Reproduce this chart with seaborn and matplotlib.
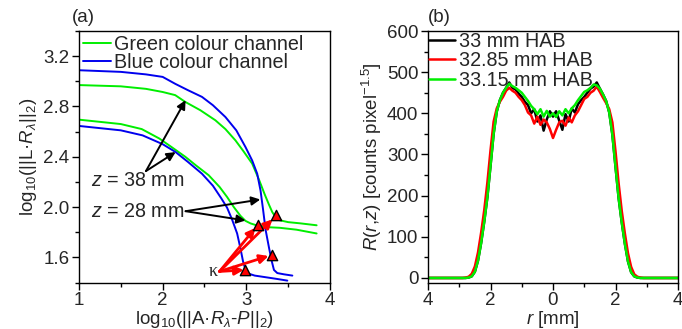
import numpy as np
import pandas as pd
import matplotlib
matplotlib.use("Agg")
import matplotlib.pyplot as plt
import seaborn as sns

# ---------------- Panel (a) data: L-curves ----------------
green_hi_x = [1.0, 1.5, 1.8, 2.0, 2.15, 2.27, 2.45, 2.63, 2.75, 2.87, 2.97, 3.07, 3.15, 3.22, 3.27, 3.31, 3.35, 3.4, 3.5, 3.65, 3.84]
green_hi_y = [2.97, 2.96, 2.94, 2.915, 2.89, 2.836, 2.77, 2.69, 2.62, 2.53, 2.44, 2.345, 2.22, 2.10, 2.02, 1.96, 1.92, 1.895, 1.88, 1.87, 1.855]
blue_hi_x = [1.0, 1.5, 1.8, 2.0, 2.15, 2.3, 2.47, 2.6, 2.75, 2.88, 2.99, 3.07, 3.13, 3.17, 3.2, 3.23, 3.27, 3.3, 3.33, 3.37, 3.45, 3.55]
blue_hi_y = [3.088, 3.075, 3.055, 3.035, 2.98, 2.93, 2.876, 2.81, 2.716, 2.61, 2.477, 2.37, 2.265, 2.13, 1.98, 1.82, 1.68, 1.58, 1.50, 1.475, 1.465, 1.455]
green_lo_x = [1.0, 1.5, 1.75, 1.96, 2.1, 2.27, 2.4, 2.55, 2.68, 2.77, 2.85, 2.93, 2.99, 3.05, 3.12, 3.25, 3.4, 3.6, 3.84]
green_lo_y = [2.695, 2.66, 2.62, 2.545, 2.48, 2.40, 2.33, 2.253, 2.16, 2.08, 2.0, 1.93, 1.89, 1.87, 1.855, 1.84, 1.835, 1.82, 1.79]
blue_lo_x = [1.0, 1.5, 1.76, 2.0, 2.155, 2.3, 2.47, 2.6, 2.7, 2.77, 2.83, 2.89, 2.93, 2.96, 2.99, 3.03, 3.1, 3.2, 3.35, 3.49]
blue_lo_y = [2.645, 2.61, 2.57, 2.50, 2.437, 2.36, 2.265, 2.17, 2.07, 1.995, 1.90, 1.79, 1.67, 1.57, 1.50, 1.47, 1.455, 1.445, 1.43, 1.415]

corner_x = [3.14, 3.36, 3.31, 2.99]
corner_y = [1.86, 1.933, 1.62, 1.50]

legend_a = ["Green colour channel", "Blue colour channel"]

# ---------------- Panel (b) data: radial profiles ----------------
r_mm = np.round(np.arange(-40, 41) / 10.0, 1)
prof_33 = ([0]*12 +
           [0, 1, 4, 15, 42, 85, 137, 196, 272, 350, 404, 432, 450, 462, 475, 462, 458, 448, 440, 428,
            420, 400, 410, 380, 395, 358, 385, 405, 392, 405, 382, 360, 398, 380, 412, 402, 422, 432,
            440, 450, 460, 465, 475, 460, 446, 430, 402, 348, 270, 194, 135, 83, 40, 14, 4, 1, 0] +
           [0]*12)
prof_3285 = ([0]*12 +
             [1, 3, 10, 28, 62, 110, 165, 232, 310, 380, 412, 428, 440, 455, 462, 455, 450, 440, 432, 420,
              402, 395, 375, 392, 372, 385, 378, 362, 340, 360, 378, 382, 370, 390, 378, 395, 405, 420,
              435, 440, 450, 455, 465, 452, 438, 425, 410, 378, 308, 230, 163, 108, 60, 27, 9, 3, 1] +
             [0]*12)
prof_3315 = ([0]*12 +
             [0, 1, 4, 15, 42, 85, 137, 196, 272, 350, 404, 432, 450, 462, 472, 466, 462, 456, 450, 440,
              430, 418, 410, 398, 410, 392, 406, 392, 400, 391, 405, 395, 410, 400, 412, 420, 432, 442,
              452, 456, 462, 470, 468, 460, 446, 430, 402, 348, 270, 194, 135, 83, 40, 14, 4, 1, 0] +
             [0]*12)
legend_b = ["33 mm HAB", "32.85 mm HAB", "33.15 mm HAB"]
b_xticks = [-4, -2, 0, 2, 4]
b_xticklabels = ["4", "2", "0", "2", "4"]

# ---------------- Style ----------------
sns.set_theme(style="ticks")
plt.rcParams["font.family"] = ["Liberation Sans", "DejaVu Sans"]
plt.rcParams["mathtext.fontset"] = "custom"
plt.rcParams["mathtext.rm"] = "Liberation Sans"
plt.rcParams["mathtext.it"] = "Liberation Sans:italic"
plt.rcParams["mathtext.bf"] = "Liberation Sans:bold"
plt.rcParams["axes.linewidth"] = 1.0

FS = 13.5
LFS = 14.2
GREEN = "#00ee00"
BLUE = "#0000ee"
RED = "#ff0000"

fig = plt.figure(figsize=(6.82, 3.29), dpi=100)
axa = fig.add_axes([79/682, (329-282.5)/329, 251/682, 251.5/329])
axb = fig.add_axes([428/682, (329-282.5)/329, 250/682, 251.5/329])

def style_axis(ax):
    for s in ax.spines.values():
        s.set_visible(True)
        s.set_color("black")
        s.set_linewidth(1.0)
    ax.tick_params(which="major", direction="out", length=5, width=1.0, labelsize=FS,
                   top=False, right=False, color="black", pad=2)
    ax.tick_params(which="minor", direction="out", length=3, width=1.0,
                   top=False, right=False, color="black")
    ax.set_facecolor("white")

# ---------------- Panel (a) ----------------
lw_a = 1.4
sns.lineplot(x=green_hi_x, y=green_hi_y, ax=axa, color=GREEN, lw=lw_a, sort=False, label=legend_a[0])
sns.lineplot(x=blue_hi_x, y=blue_hi_y, ax=axa, color=BLUE, lw=lw_a, sort=False, label=legend_a[1])
sns.lineplot(x=green_lo_x, y=green_lo_y, ax=axa, color=GREEN, lw=lw_a, sort=False)
sns.lineplot(x=blue_lo_x, y=blue_lo_y, ax=axa, color=BLUE, lw=lw_a, sort=False)

axa.set_xlim(1, 4)
axa.set_ylim(1.4, 3.4)
axa.set_xticks([1, 2, 3, 4])
axa.set_yticks([1.6, 2.0, 2.4, 2.8, 3.2])
axa.set_xticks(np.arange(1.5, 4, 1.0), minor=True)
axa.set_yticks([1.4, 1.8, 2.2, 2.6, 3.0, 3.4], minor=True)
axa.set_xticklabels(["1", "2", "3", "4"])
axa.set_yticklabels(["1.6", "2.0", "2.4", "2.8", "3.2"])
style_axis(axa)
axa.set_xlabel("log$_{10}$(||A·$R_{\\lambda}$-$P$||$_2$)", fontsize=FS, labelpad=0)
axa.set_ylabel("log$_{10}$(||L·$R_{\\lambda}$||$_2$)", fontsize=FS, labelpad=3)

# black annotation arrows
tail38 = (1.80, 2.286)
heads38 = [(2.274, 2.85), (2.155, 2.437)]
tail28 = (2.274, 1.967)
heads28 = [(3.167, 2.06), (2.99, 1.893)]
for h in heads38:
    axa.annotate("", xy=h, xytext=tail38,
                 arrowprops=dict(arrowstyle="-|>", color="black", lw=1.4, mutation_scale=13, shrinkA=0, shrinkB=0))
for h in heads28:
    axa.annotate("", xy=h, xytext=tail28,
                 arrowprops=dict(arrowstyle="-|>", color="black", lw=1.4, mutation_scale=13, shrinkA=0, shrinkB=0))
axa.text(1.14, 2.215, "$z$ = 38 mm", fontsize=14.2, ha="left", va="center")
axa.text(1.14, 1.967, "$z$ = 28 mm", fontsize=14.2, ha="left", va="center")

# red arrows to corner points
kappa_tail = (2.68, 1.488)
for cx, cy in zip(corner_x, corner_y):
    dx, dy = cx - kappa_tail[0], cy - kappa_tail[1]
    axa.annotate("", xy=(kappa_tail[0] + 0.93*dx, kappa_tail[1] + 0.93*dy), xytext=kappa_tail,
                 arrowprops=dict(arrowstyle="-|>", color=RED, lw=2.0, mutation_scale=13, shrinkA=0, shrinkB=0))
sns.scatterplot(x=corner_x, y=corner_y, ax=axa, marker="^", s=55, color=RED,
                edgecolor="black", linewidth=1.0, zorder=5, legend=False)
axa.text(2.60, 1.49, "κ", fontsize=13, ha="center", va="center", family=["Liberation Serif", "DejaVu Serif"])

leg = axa.legend(loc="upper left", frameon=False, fontsize=LFS, handlelength=1.4,
                 handletextpad=0.2, labelspacing=-0.05, borderpad=0.15, borderaxespad=0.05)
axa.text(-0.03, 1.02, "(a)", transform=axa.transAxes, fontsize=FS, ha="left", va="bottom")

# ---------------- Panel (b) ----------------
dfb = pd.DataFrame({"r": np.concatenate([r_mm, r_mm, r_mm]),
                    "R": np.concatenate([prof_33, prof_3285, prof_3315]),
                    "HAB": [legend_b[0]]*len(r_mm) + [legend_b[1]]*len(r_mm) + [legend_b[2]]*len(r_mm)})
sns.lineplot(data=dfb, x="r", y="R", hue="HAB", hue_order=legend_b,
             palette=["black", RED, GREEN], lw=1.8, ax=axb, sort=False)
axb.set_xlim(-4, 4)
axb.set_ylim(-11, 600)
axb.set_xticks(b_xticks)
axb.set_xticklabels(b_xticklabels)
axb.set_xticks([-3, -1, 1, 3], minor=True)
axb.set_yticks([0, 100, 200, 300, 400, 500, 600])
axb.set_yticks([50, 150, 250, 350, 450, 550], minor=True)
style_axis(axb)
axb.set_xlabel("$r$ [mm]", fontsize=FS, labelpad=0)
axb.set_ylabel("$R$($r$,$z$) [counts pixel$^{-1.5}$]", fontsize=FS, labelpad=2)
legb = axb.legend(loc="upper left", frameon=False, fontsize=LFS, handlelength=1.3,
                  handletextpad=0.2, labelspacing=0.02, borderpad=0.0, borderaxespad=0.05)
for lh in legb.get_lines():
    lh.set_linewidth(1.8)
axb.text(0.0, 1.02, "(b)", transform=axb.transAxes, fontsize=FS, ha="left", va="bottom")

fig.savefig("out.png", dpi=100, facecolor="white")
